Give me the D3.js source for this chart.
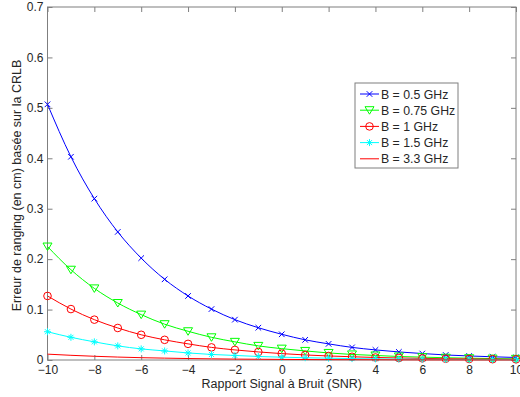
<!DOCTYPE html>
<html><head><meta charset="utf-8">
<script src="https://cdn.jsdelivr.net/npm/d3@7"></script>
<style>body{margin:0;background:#fff}svg{display:block;font-family:"Liberation Sans",Arial,sans-serif}</style>
</head><body><svg id="c" width="520" height="397"></svg>
<script>
const snr = [-10,-9,-8,-7,-6,-5,-4,-3,-2,-1,0,1,2,3,4,5,6,7,8,9,10];
const b05  = [0.507,0.403,0.320,0.254,0.202,0.160,0.127,0.101,0.080,0.064,0.051,0.040,0.032,0.025,0.020,0.016,0.0128,0.010,0.008,0.0064,0.005];
const b075 = [0.225,0.179,0.142,0.113,0.090,0.071,0.057,0.045,0.036,0.028,0.0225,0.018,0.014,0.011,0.009,0.007,0.0057,0.0045,0.0036,0.0028,0.0023];
const b1   = [0.127,0.101,0.080,0.0635,0.050,0.040,0.032,0.025,0.020,0.016,0.0127,0.010,0.008,0.0064,0.005,0.004,0.0032,0.0025,0.002,0.0016,0.0013];
const b15  = [0.056,0.045,0.036,0.028,0.022,0.018,0.014,0.011,0.009,0.007,0.0056,0.0045,0.0036,0.0028,0.0022,0.0018,0.0014,0.0011,0.0009,0.0007,0.0006];
const b33  = [0.0116,0.0093,0.0074,0.0058,0.0046,0.0037,0.0029,0.0023,0.0018,0.0015,0.0012,0.0009,0.0007,0.0006,0.0005,0.0004,0.0003,0.0002,0.0002,0.0001,0.0001];
const xTicks = [-10,-8,-6,-4,-2,0,2,4,6,8,10];
const yTicks = [0,0.1,0.2,0.3,0.4,0.5,0.6,0.7];
const seriesNames = ["B = 0.5 GHz","B = 0.75 GHz","B = 1 GHz","B = 1.5 GHz","B = 3.3 GHz"];
const seriesColors = ["#0000ff","#00ff00","#ff0000","#00ffff","#ff0000"];
const seriesMarkers = ["x","tri","circle","star","none"];
const seriesData = [b05,b075,b1,b15,b33];

const svg = d3.select("#c");
const L=47.5, R=516, T=7, B=360;
const x = d3.scaleLinear().domain([-10,10]).range([L,R]);
const y = d3.scaleLinear().domain([0,0.7]).range([B,T]);
const axCol="#7f7f7f", txtCol="#262626";

svg.append("rect").attr("x",L).attr("y",T).attr("width",R-L).attr("height",B-T)
  .attr("fill","none").attr("stroke",axCol).attr("stroke-width",1);

const gx = svg.append("g").attr("transform",`translate(0,${B})`)
  .call(d3.axisBottom(x).tickValues(xTicks).tickSizeInner(-5).tickSizeOuter(0).tickPadding(5).tickFormat(d3.format("d")));
const gxt = svg.append("g").attr("transform",`translate(0,${T})`)
  .call(d3.axisTop(x).tickValues(xTicks).tickSizeInner(-5).tickSizeOuter(0).tickFormat(""));
const gy = svg.append("g").attr("transform",`translate(${L},0)`)
  .call(d3.axisLeft(y).tickValues(yTicks).tickSizeInner(-5).tickSizeOuter(0).tickPadding(4).tickFormat(d=>d===0?"0":d3.format(".1f")(d)));
const gyr = svg.append("g").attr("transform",`translate(${R},0)`)
  .call(d3.axisRight(y).tickValues(yTicks).tickSizeInner(-5).tickSizeOuter(0).tickFormat(""));
[gx,gxt,gy,gyr].forEach(g=>{
  g.select(".domain").remove();
  g.selectAll("line").attr("stroke",axCol);
  g.selectAll("text").attr("fill",txtCol).attr("font-size",12).attr("font-family","Liberation Sans, Arial, sans-serif");
});

const line = d3.line().x((d,i)=>x(snr[i])).y(d=>y(d)).curve(d3.curveMonotoneX);

function marker(g, type, cx, cy, col){
  if(type==="x"){
    g.append("path").attr("d",`M${cx-2.8},${cy-2.8}L${cx+2.8},${cy+2.8}M${cx-2.8},${cy+2.8}L${cx+2.8},${cy-2.8}`).attr("stroke",col).attr("fill","none");
  } else if(type==="tri"){
    g.append("path").attr("d",`M${cx-4.5},${cy-3.5}L${cx+4.5},${cy-3.5}L${cx},${cy+4}Z`).attr("stroke",col).attr("fill","none");
  } else if(type==="circle"){
    g.append("circle").attr("cx",cx).attr("cy",cy).attr("r",3.8).attr("stroke",col).attr("fill","none");
  } else if(type==="star"){
    g.append("path").attr("d",`M${cx-3.5},${cy}L${cx+3.5},${cy}M${cx},${cy-3.5}L${cx},${cy+3.5}M${cx-2.5},${cy-2.5}L${cx+2.5},${cy+2.5}M${cx-2.5},${cy+2.5}L${cx+2.5},${cy-2.5}`).attr("stroke",col).attr("fill","none");
  }
}

seriesData.forEach((vals,s)=>{
  const g = svg.append("g");
  g.append("path").datum(vals).attr("d",line).attr("fill","none").attr("stroke",seriesColors[s]).attr("stroke-width",1);
  if(seriesMarkers[s]!=="none"){
    vals.forEach((v,i)=>marker(g,seriesMarkers[s],x(snr[i]),y(v),seriesColors[s]));
  }
});

svg.append("text").attr("x",(L+R)/2).attr("y",388).attr("text-anchor","middle")
  .attr("font-size",12.5).attr("fill",txtCol).text("Rapport Signal à Bruit (SNR)");
svg.append("text").attr("transform",`translate(21,${(T+B)/2+2}) rotate(-90)`).attr("text-anchor","middle")
  .attr("font-size",12.5).attr("fill",txtCol).text("Erreur de ranging (en cm) basée sur la CRLB");

const lg = svg.append("g");
lg.append("rect").attr("x",355).attr("y",83).attr("width",103).attr("height",85).attr("fill","#fff").attr("stroke",axCol);
seriesNames.forEach((n,i)=>{
  const yy = 94 + i*16.2;
  lg.append("line").attr("x1",360).attr("x2",379).attr("y1",yy).attr("y2",yy).attr("stroke",seriesColors[i]);
  if(seriesMarkers[i]!=="none") marker(lg,seriesMarkers[i],369.5,yy,seriesColors[i]);
  lg.append("text").attr("x",381).attr("y",yy+4.5).attr("font-size",12.3).attr("fill",txtCol).text(n);
});
</script></body></html>
